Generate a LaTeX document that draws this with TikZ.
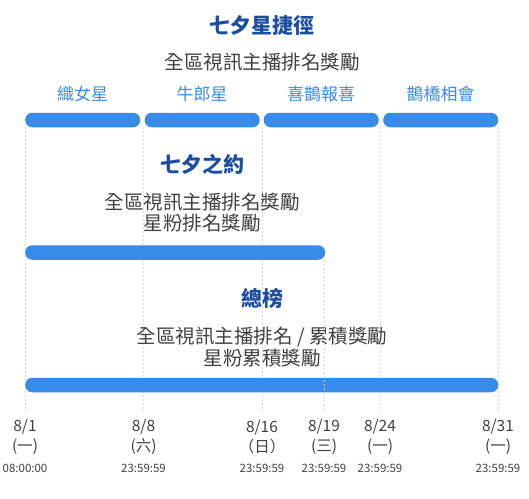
\documentclass[tikz,border=0pt]{standalone}
\usepackage{fontspec}
\setmainfont{Noto Sans CJK TC}
\usetikzlibrary{positioning}
\definecolor{barblue}{RGB}{56,139,232}
\definecolor{titleblue}{RGB}{28,78,160}
\definecolor{textgray}{RGB}{64,64,64}
\definecolor{tickgray}{RGB}{218,218,218}

\begin{document}
\begin{tikzpicture}[x=1pt,y=-1pt,on grid]
	\tikzstyle{title}=[font=\bfseries\fontsize{21}{25}\selectfont,text=titleblue,inner sep=0]
	\tikzstyle{prize}=[font=\fontsize{19.5}{21.5}\selectfont,text=textgray,align=center,inner sep=0]
	\tikzstyle{phase}=[font=\fontsize{17}{20}\selectfont,text=barblue,inner sep=0]
	\tikzstyle{bar}=[fill=barblue,rounded corners=7pt,minimum height=14.5pt,inner sep=0,anchor=west]
	\tikzstyle{tick}=[draw=tickgray,line width=0.7pt,dash pattern=on 2pt off 2pt]
	\tikzstyle{date}=[font=\fontsize{15.5}{20}\selectfont,text=textgray,align=center,inner sep=0]
	\tikzstyle{time}=[font=\fontsize{11.5}{13}\selectfont,text=textgray,inner sep=0]

	\useasboundingbox (0,0) rectangle (529,498);

	% dates
	\node[date] (D1)  at (25,437)    {8/1\\(一)};
	\node[date] (D8)  at (143.5,437) {8/8\\(六)};
	\node[date] (D16) at (262,437)   {8/16\\（日）};
	\node[date] (D19) at (324,437)   {8/19\\(三)};
	\node[date] (D24) at (380,437)   {8/24\\(一)};
	\node[date] (D31) at (498,437)   {8/31\\(一)};
	\node[time] (T1)  [below=31pt of D1]  {08:00:00};
	\node[time] (T8)  [below=31pt of D8]  {23:59:59};
	\node[time] (T16) [below=31pt of D16] {23:59:59};
	\node[time] (T19) [below=31pt of D19] {23:59:59};
	\node[time] (T24) [below=31pt of D24] {23:59:59};
	\node[time] (T31) [below=31pt of D31] {23:59:59};

	\coordinate (TOP1)  at (25,127);
	\coordinate (TOP8)  at (143.5,127);
	\coordinate (TOP16) at (262,127);
	\coordinate (TOP19) at (324,260);
	\coordinate (TOP24) at (380,127);
	\coordinate (TOP31) at (498,127);
	\coordinate (END1)  at (25,412);
	\coordinate (END8)  at (143.5,412);
	\coordinate (END16) at (262,412);
	\coordinate (END19) at (324,412);
	\coordinate (END24) at (380,412);
	\coordinate (END31) at (498,412);

	\draw[tick] (TOP1) -- (END1);
	\draw[tick] (TOP8) -- (END8);
	\draw[tick] (TOP16) -- (END16);
	\draw[tick] (TOP24) -- (END24);
	\draw[tick] (TOP31) -- (END31);

	% 七夕星捷徑
	\node[title] (XINGJIE) at (262,26) {七夕星捷徑};
	\node[prize] (PRIZE1) [below=36pt of XINGJIE] {全區視訊主播排名獎勵};
	\node[bar,minimum width=115pt] (ZHINUBAR)   at (25,120)    {};
	\node[bar,minimum width=115pt] (NIULANGBAR) at (144.5,120) {};
	\node[bar,minimum width=115pt] (XIQUEBAR)   at (263.5,120) {};
	\node[bar,minimum width=115pt] (QUEQIAOBAR) at (383,120)   {};
	\node[phase] (ZHINU)   [above=26pt of ZHINUBAR]   {織女星};
	\node[phase] (NIULANG) [above=26pt of NIULANGBAR] {牛郎星};
	\node[phase] (XIQUE)   [above=26pt of XIQUEBAR]   {喜鵲報喜};
	\node[phase] (QUEQIAO) [above=26pt of QUEQIAOBAR] {鵲橋相會};

	% 七夕之約
	\node[title] (ZHIYUE) at (202,164) {七夕之約};
	\node[prize] (PRIZE2) [below=48.5pt of ZHIYUE] {全區視訊主播排名獎勵\\星粉排名獎勵};
	\node[bar,minimum width=300pt] (ZHIYUEBAR) at (25,252.5) {};

	% 總榜
	\node[title] (ZONGBANG) at (262,298) {總榜};
	\node[prize] (PRIZE3) [below=49pt of ZONGBANG] {全區視訊主播排名 / 累積獎勵\\星粉累積獎勵};
	\node[bar,minimum width=473pt] (ZONGBANGBAR) at (25,385) {};

	\draw[tick] (TOP19) -- (END19);
\end{tikzpicture}
\end{document}
